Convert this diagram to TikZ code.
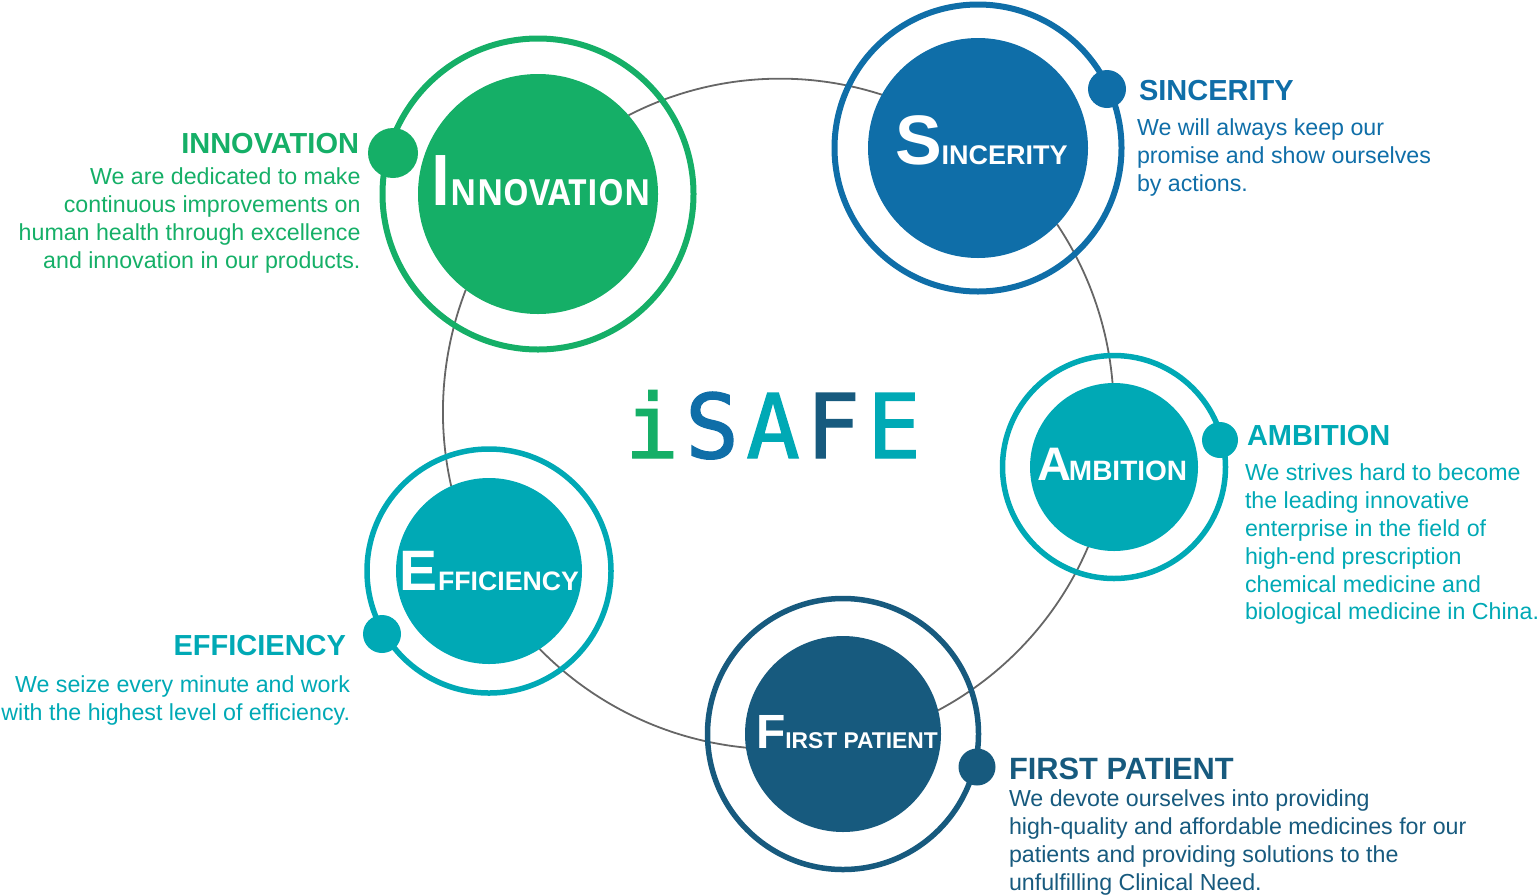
\documentclass[tikz,border=0pt]{standalone}
\usepackage{fontspec}
\usetikzlibrary{backgrounds}
\setmainfont{Liberation Sans}
\newfontfamily\discfont[FakeStretch=0.9]{Open Sans}
\newfontfamily\logofont[FakeBold=1.6]{DejaVu Sans Mono}
\definecolor{cgreen}{HTML}{15AF67}
\definecolor{cblue}{HTML}{0F6EA8}
\definecolor{cteal}{HTML}{00A9B5}
\definecolor{cdark}{HTML}{175A7E}
\definecolor{cline}{HTML}{666666}
\newcommand{\disclabel}[5]{{\bfseries\fontsize{#1}{#1}\selectfont #3\kern#5pt\fontsize{#2}{#2}\selectfont #4}}
\tikzset{
  disc/.style={circle,inner sep=0,outer sep=0,fill=#1},
  ring/.style={circle,inner sep=0,outer sep=0,draw=#1},
  blob/.style={circle,inner sep=0,outer sep=0,fill=#1},
  disctext/.style={anchor=base west,inner sep=0,outer sep=0,text=white},
  heading/.style={inner sep=0,outer sep=0,font=\bfseries\fontsize{29}{29}\selectfont},
  body/.style={inner sep=0,outer sep=0,font=\fontsize{23.2}{27.8}\selectfont},
  logo/.style={anchor=base,inner sep=0,outer sep=0,font=\logofont\fontsize{89}{89}\selectfont},
  arc/.style={draw=cline,line width=1.8pt}
}
\begin{document}
\begin{tikzpicture}[x=1pt,y=-1pt]
\useasboundingbox (0,0) rectangle (1538,895);
% discs
\node[disc=cgreen,minimum size=240pt] (inno) at (538,194) {};
\node[disc=cblue,minimum size=220pt] (sinc) at (978,148) {};
\node[disc=cteal,minimum size=168pt] (ambi) at (1114,467) {};
\node[disc=cdark,minimum size=196pt] (firs) at (843,734) {};
\node[disc=cteal,minimum size=186pt] (effi) at (489,571) {};
% rings
\node[ring=cgreen,line width=6pt,minimum size=311pt] (innoring) at (538,194) {};
\node[ring=cblue,line width=6pt,minimum size=287pt] (sincring) at (978,148) {};
\node[ring=cteal,line width=5.5pt,minimum size=223pt] (ambiring) at (1114,467) {};
\node[ring=cdark,line width=5.5pt,minimum size=271pt] (firsring) at (843,734) {};
\node[ring=cteal,line width=5.5pt,minimum size=244pt] (effiring) at (489,571) {};
% blobs
\node[blob=cgreen,minimum size=50pt] (innodot) at (393,153) {};
\node[blob=cblue,minimum size=38pt] (sincdot) at (1107,89) {};
\node[blob=cteal,minimum size=36pt] (ambidot) at (1220,440) {};
\node[blob=cdark,minimum size=37pt] (firsdot) at (977,767) {};
\node[blob=cteal,minimum size=38pt] (effidot) at (382,634) {};
% connectors
\begin{pgfonlayer}{background}
\draw[arc] (inno.41.6) to[bend left=22.6,looseness=0.886] (sinc.151);
\draw[arc] (sinc.-44.6) to[bend left=14.5,looseness=0.865] (ambi.91);
\draw[arc] (ambi.252) to[bend left=19.4,looseness=0.877] (firs.14.3);
\draw[arc] (firs.188) to[bend left=20,looseness=0.88] (effi.303.5);
\draw[arc] (effi.114.6) to[bend left=17,looseness=0.87] (inno.233);
\end{pgfonlayer}
% disc labels
\node[disctext] (innolab) at (430,205) {\discfont\disclabel{70}{36}{I}{NNOVATION}{0}};
\node[disctext] (sinclab) at (895,164) {\disclabel{70}{27}{S}{INCERITY}{0}};
\node[disctext] (ambilab) at (1037,480) {\disclabel{47}{28}{A}{MBITION}{-2}};
\node[disctext] (firslab) at (756,748) {\disclabel{48}{22.8}{F}{IRST PATIENT}{0}};
\node[disctext] (effilab) at (399.5,590) {\disclabel{57}{26.7}{E}{FFICIENCY}{0.5}};
% logo
\node[logo,text=cgreen] (logoi) at (652,458) {i};
\node[logo,text=cblue] (logos) at (712,458) {S};
\node[logo,text=cteal] (logoa) at (773,458) {A};
\node[logo,text=cdark] (logof) at (833,458) {F};
\node[logo,text=cteal] (logoe) at (894,458) {E};
% side texts
\node[heading,anchor=base east,text=cgreen] (innohead) at (359,153) {INNOVATION};
\node[body,anchor=north east,align=right,text=cgreen] (innobody) at (360.5,168) {We are dedicated to make\\continuous improvements on\\human health through excellence\\and innovation in our products.};
\node[heading,anchor=base west,text=cblue] (sinchead) at (1139,100) {SINCERITY};
\node[body,anchor=north west,align=left,text=cblue] (sincbody) at (1137,119) {We will always keep our\\promise and show ourselves\\by actions.};
\node[heading,anchor=base west,text=cteal] (ambihead) at (1247,445) {AMBITION};
\node[body,anchor=north west,align=left,text=cteal] (ambibody) at (1245,464) {We strives hard to become\\the leading innovative\\enterprise in the field of\\high-end prescription\\chemical medicine and\\biological medicine in China.};
\node[heading,anchor=base west,text=cdark,font=\bfseries\fontsize{30.8}{30.8}\selectfont] (firshead) at (1009,779) {FIRST PATIENT};
\node[body,anchor=north west,align=left,text=cdark] (firsbody) at (1009,790) {We devote ourselves into providing\\high-quality and affordable medicines for our\\patients and providing solutions to the\\unfulfilling Clinical Need.};
\node[heading,anchor=base east,text=cteal] (effihead) at (346,655) {EFFICIENCY};
\node[body,anchor=north east,align=right,text=cteal] (effibody) at (350,676) {We seize every minute and work\\with the highest level of efficiency.};
\end{tikzpicture}
\end{document}
